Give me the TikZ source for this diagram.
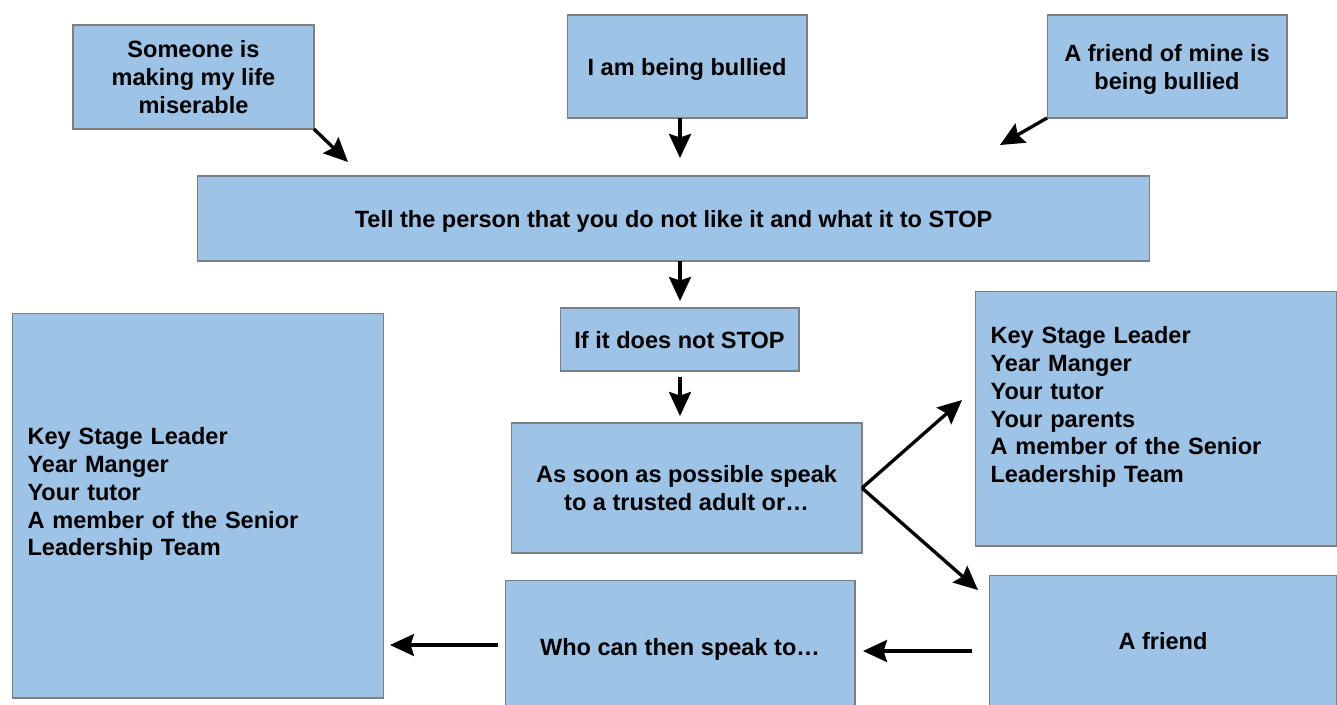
\documentclass[tikz,border=0pt]{standalone}
\usepackage{fontspec}
\setmainfont{Liberation Sans}
\usetikzlibrary{arrows.meta}
\definecolor{boxblue}{HTML}{9DC3E6}
\definecolor{boxline}{HTML}{7F7F7F}
\tikzset{
  cell/.style={draw=boxline, fill=boxblue, line width=0.6pt, outer sep=0pt, inner sep=0pt,
    font=\bfseries\fontsize{13.4}{15.9}\selectfont},
  box/.style={cell, align=center, text depth=0pt},
  listbox/.style={cell, align=left, inner xsep=0.31cm},
  arr/.style={-{Stealth[length=0.48cm, width=0.44cm, inset=0.07cm]}, line width=1.9pt}
}
\begin{document}
\begin{tikzpicture}[x=0.02cm,y=-0.02cm]
\fill[white] (0,0) rectangle (1337,704);
\clip (0,0) rectangle (1337,704);
\node[box, minimum width=4.82cm, minimum height=2.08cm] (a) at (193.5,77) {Someone is\\making my life\\miserable};
\node[box, minimum width=4.8cm, minimum height=2.06cm] (b) at (687,66.5) {I am being bullied};
\node[box, minimum width=4.8cm, minimum height=2.06cm] (c) at (1167,66.5) {A friend of mine is\\being bullied};
\node[box, minimum width=19.06cm, minimum height=1.7cm] (d) at (673.5,218.5) {Tell the person that you do not like it and what it to STOP};
\node[box, minimum width=4.78cm, minimum height=1.26cm] (e) at (679.5,339.5) {If it does not STOP};
\node[box, minimum width=7.02cm, minimum height=2.6cm] (f) at (686.5,488) {As soon as possible speak\\to a trusted adult or\dots};
\node[listbox, minimum width=7.24cm, minimum height=5.1cm, text width=6.62cm] (g) at (1156,418.5) {Key Stage Leader\\Year Manger\\Your tutor\\Your parents\\A member of the Senior\\Leadership Team\\\mbox{}};
\node[box, minimum width=6.96cm, minimum height=2.64cm] (h) at (1163,641) {A friend};
\node[box, minimum width=7cm, minimum height=2.68cm] (i) at (680,647) {Who can then speak to\dots};
\node[listbox, minimum width=7.44cm, minimum height=7.7cm, text width=6.82cm] (j) at (198,505.5) {Key Stage Leader\\Year Manger\\Your tutor\\A member of the Senior\\Leadership Team\\\mbox{}};
\coordinate (da) at (348,162);
\coordinate (db) at (680,158);
\coordinate (dc) at (1000,145);
\coordinate (ed) at (680,301);
\coordinate (fe) at (680,416);
\coordinate (gf) at (962,400);
\coordinate (hf) at (978,590);
\coordinate (ih) at (863,651);
\coordinate (ji) at (390,645);
\draw[arr] (a.south east) -- (da);
\draw[arr] (b.south -| db) -- (db);
\draw[arr] (c.south west) -- (dc);
\draw[arr] (d.south -| ed) -- (ed);
\draw[arr, shorten <=0.12cm] (e.south -| fe) -- (fe);
\draw[arr] (f.east) -- (gf);
\draw[arr] (f.east) -- (hf);
\draw[arr, shorten <=0.34cm] (h.west |- ih) -- (ih);
\draw[arr, shorten <=0.14cm] (i.west |- ji) -- (ji);
\end{tikzpicture}
\end{document}
